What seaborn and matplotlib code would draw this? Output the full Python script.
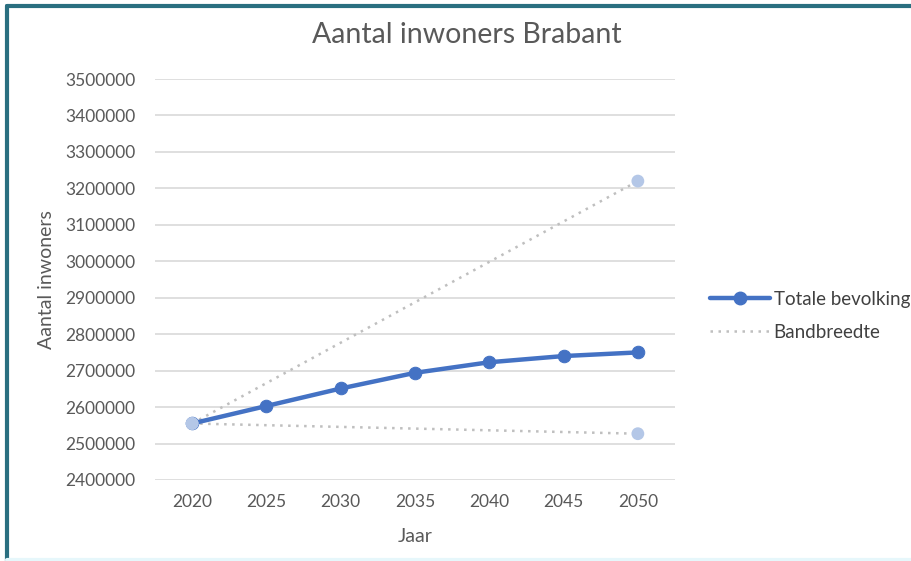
import matplotlib
matplotlib.use("Agg")
import matplotlib.pyplot as plt
from matplotlib.lines import Line2D
import seaborn as sns
import pandas as pd

years = [2020, 2025, 2030, 2035, 2040, 2045, 2050]
totale_bevolking = [2555000, 2603000, 2651000, 2694000, 2723000, 2740000, 2750000]
band_years = [2020, 2050]
band_hoog = [2555000, 3220000]
band_laag = [2555000, 2527000]
yticks = list(range(2400000, 3500001, 100000))

sns.set_theme(style="white")
plt.rcParams['font.family'] = ['Lato', 'DejaVu Sans']

fig = plt.figure(figsize=(9.12, 5.61), dpi=100)
ax = fig.add_axes([155/912, 1-480/561, (675-155)/912, (480-79)/561])

xpos = {y: i for i, y in enumerate(years)}
df_tot = pd.DataFrame({"x": [xpos[y] for y in years], "y": totale_bevolking})
df_hi = pd.DataFrame({"x": [xpos[y] for y in band_years], "y": band_hoog})
df_lo = pd.DataFrame({"x": [xpos[y] for y in band_years], "y": band_laag})

for yt in yticks:
    ax.axhline(yt, color="#d9d9d9", lw=1.2, zorder=0)

band_col = "#bfbfbf"
band_mk = "#b4c7e7"
sns.lineplot(data=df_hi, x="x", y="y", ax=ax, color=band_col, lw=1.8,
             linestyle=(0, (1, 2.2)), zorder=2)
sns.lineplot(data=df_lo, x="x", y="y", ax=ax, color=band_col, lw=1.8,
             linestyle=(0, (1, 2.2)), zorder=2)

sns.lineplot(data=df_tot, x="x", y="y", ax=ax, color="#4472c4", lw=3.2,
             marker="o", markersize=9, markeredgecolor="#4472c4", zorder=4)

ax.scatter(df_hi["x"], df_hi["y"], s=85, color=band_mk, zorder=5, edgecolor="none")
ax.scatter(df_lo["x"], df_lo["y"], s=85, color=band_mk, zorder=5, edgecolor="none")

ax.set_xlim(-0.5, len(years) - 0.5)
ax.set_ylim(2400000, 3500000)
ax.set_xticks(range(len(years)))
ax.set_xticklabels([str(y) for y in years])
ax.set_yticks(yticks)
ax.set_yticklabels([str(y) for y in yticks])
for s in ax.spines.values():
    s.set_visible(False)
ax.tick_params(axis="both", length=0, labelsize=12.5, colors="#595959")
ax.tick_params(axis="x", pad=10)
ax.tick_params(axis="y", pad=14)
ax.set_xlabel("")
ax.set_ylabel("")

fig.text(415/912, 1-537/561, "Jaar", ha="center", va="center", fontsize=14, color="#595959")
fig.text(47/912, 1-280/561, "Aantal inwoners", ha="center", va="center", rotation=90,
         fontsize=14, color="#595959")
fig.text(467/912, 1-35/561, "Aantal inwoners Brabant", ha="center", va="center",
         fontsize=20.5, color="#595959")

handles = [
    Line2D([], [], color="#4472c4", lw=3.2, marker="o", markersize=9),
    Line2D([], [], color=band_col, lw=1.8, linestyle=(0, (1, 2.2))),
]
leg = fig.legend(handles, ["Totale bevolking", "Bandbreedte"], loc="center left",
                 bbox_to_anchor=(693/912, 1-316/561), frameon=False, fontsize=13.5,
                 handlelength=3.2, labelspacing=0.85, handletextpad=0.2)
for t in leg.get_texts():
    t.set_color("#404040")

# frame border (top and left) like reference
fig.add_artist(Line2D([7/912, 7/912], [0, 1-6/561], color="#2a6f80", lw=3,
                      transform=fig.transFigure))
fig.add_artist(Line2D([7/912, 1], [1-6/561, 1-6/561], color="#2a6f80", lw=3,
                      transform=fig.transFigure))
fig.add_artist(Line2D([7/912, 1], [1.5/561, 1.5/561], color="#e6f7fb", lw=3,
                      transform=fig.transFigure))

fig.savefig("out.png", dpi=100)
